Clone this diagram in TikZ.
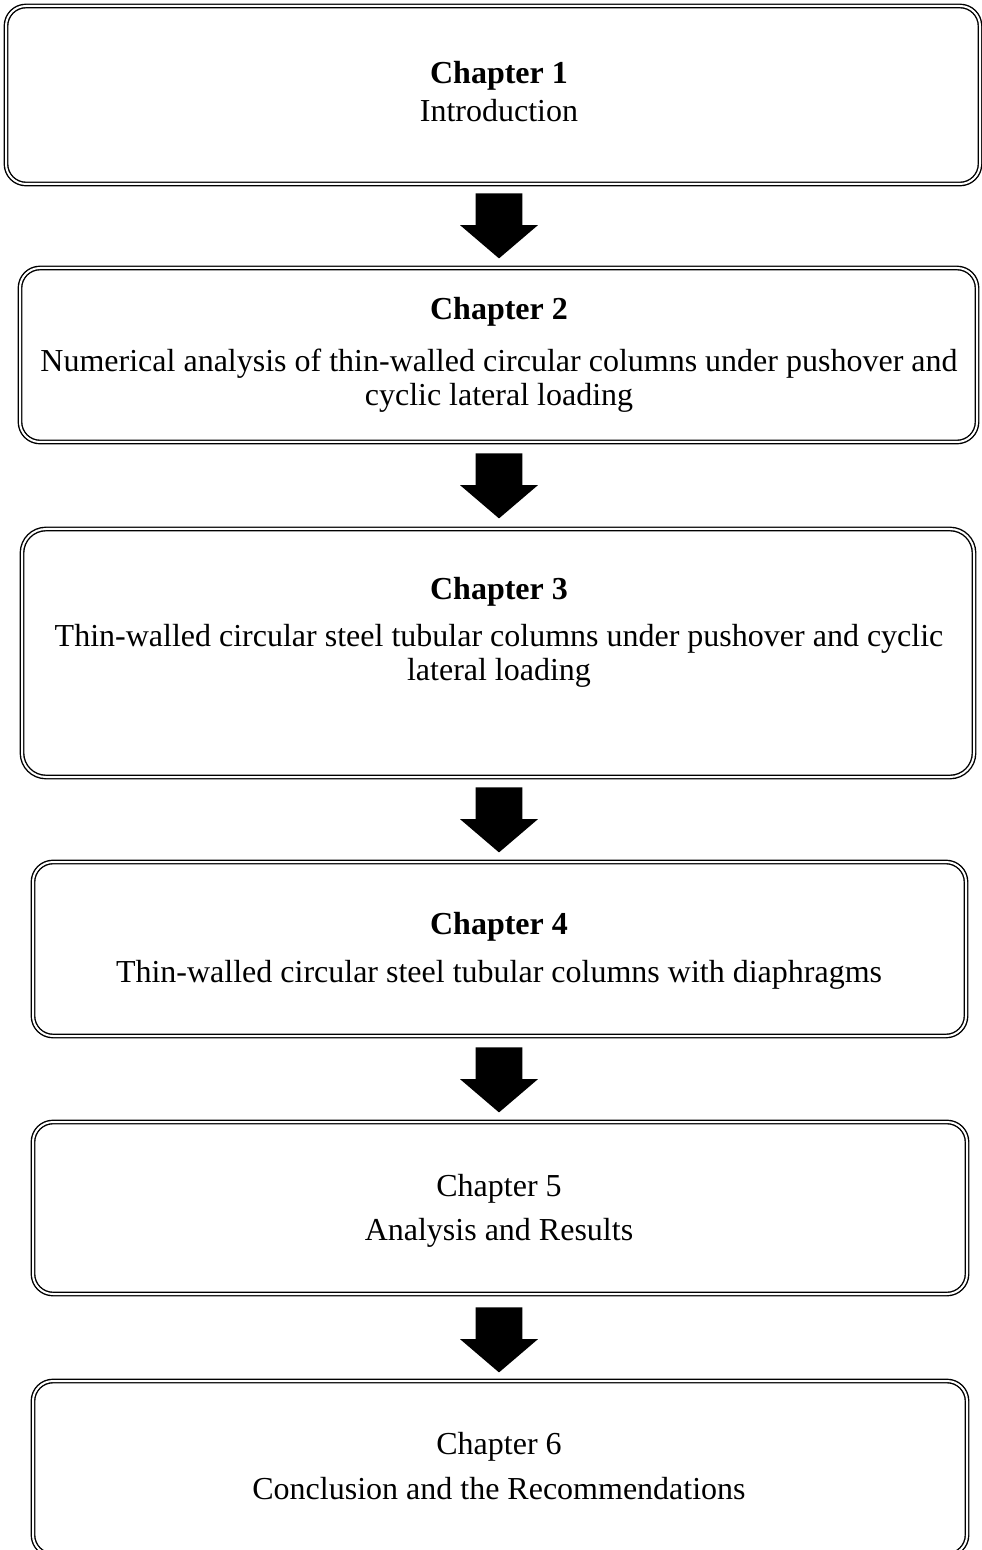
\documentclass[tikz,border=0pt]{standalone}
\usepackage{fontspec}
\setmainfont{Liberation Serif}
\usetikzlibrary{shapes.arrows}
\tikzset{
  chapbox/.style={draw, double, double distance=1pt, line width=0.7pt, rounded corners=10pt},
  downarrow/.style={single arrow, fill=black, draw=none, inner xsep=0pt, inner ysep=11.5pt,
    minimum height=32.5pt, single arrow head extend=7.75pt, single arrow tip angle=99,
    rotate=-90, anchor=tail},
  booktext/.style={font=\fontsize{16}{17}\selectfont, align=center, inner sep=0pt, anchor=base}
}
\begin{document}
\begin{tikzpicture}[x=0.5pt,y=-0.5pt]
\useasboundingbox (0,0) rectangle (981,1550);
% chapter boxes
\node[chapbox, minimum width=487pt, minimum height=89pt] (b1) at (493,95) {};
\node[chapbox, minimum width=478.5pt, minimum height=87pt] (b2) at (498.5,355) {};
\node[chapbox, minimum width=476pt, minimum height=124pt, rounded corners=12pt] (b3) at (498,653) {};
\node[chapbox, minimum width=466.5pt, minimum height=87pt] (b4) at (499.5,949) {};
\node[chapbox, minimum width=467pt, minimum height=86pt] (b5) at (500,1208) {};
\node[chapbox, minimum width=467pt, minimum height=87pt] (b6) at (500,1468) {};
% texts (base = last line)
\node[booktext] (t1) at (499,84) {\textbf{Chapter 1}};
\node[booktext] (d1) at (499,122) {Introduction};
\node[booktext] (t2) at (499,320) {\textbf{Chapter 2}};
\node[booktext] (d2) at (499,406) {Numerical analysis of thin-walled circular columns under pushover and\\cyclic lateral loading};
\node[booktext] (t3) at (499,599) {\textbf{Chapter 3}};
\node[booktext] (d3) at (499,680) {Thin-walled circular steel tubular columns under pushover and cyclic\\lateral loading};
\node[booktext] (t4) at (499,934) {\textbf{Chapter 4}};
\node[booktext] (d4) at (499,982) {Thin-walled circular steel tubular columns with diaphragms};
\node[booktext] (t5) at (499,1196) {Chapter 5};
\node[booktext] (d5) at (499,1240) {Analysis and Results};
\node[booktext] (t6) at (499,1454) {Chapter 6};
\node[booktext] (d6) at (499,1499) {Conclusion and the Recommendations};
% arrows between boxes
\node[downarrow] (a1) at (499,193) {};
\node[downarrow] (a2) at (499,453) {};
\node[downarrow] (a3) at (499,787) {};
\node[downarrow] (a4) at (499,1047) {};
\node[downarrow] (a5) at (499,1307) {};
\end{tikzpicture}
\end{document}
